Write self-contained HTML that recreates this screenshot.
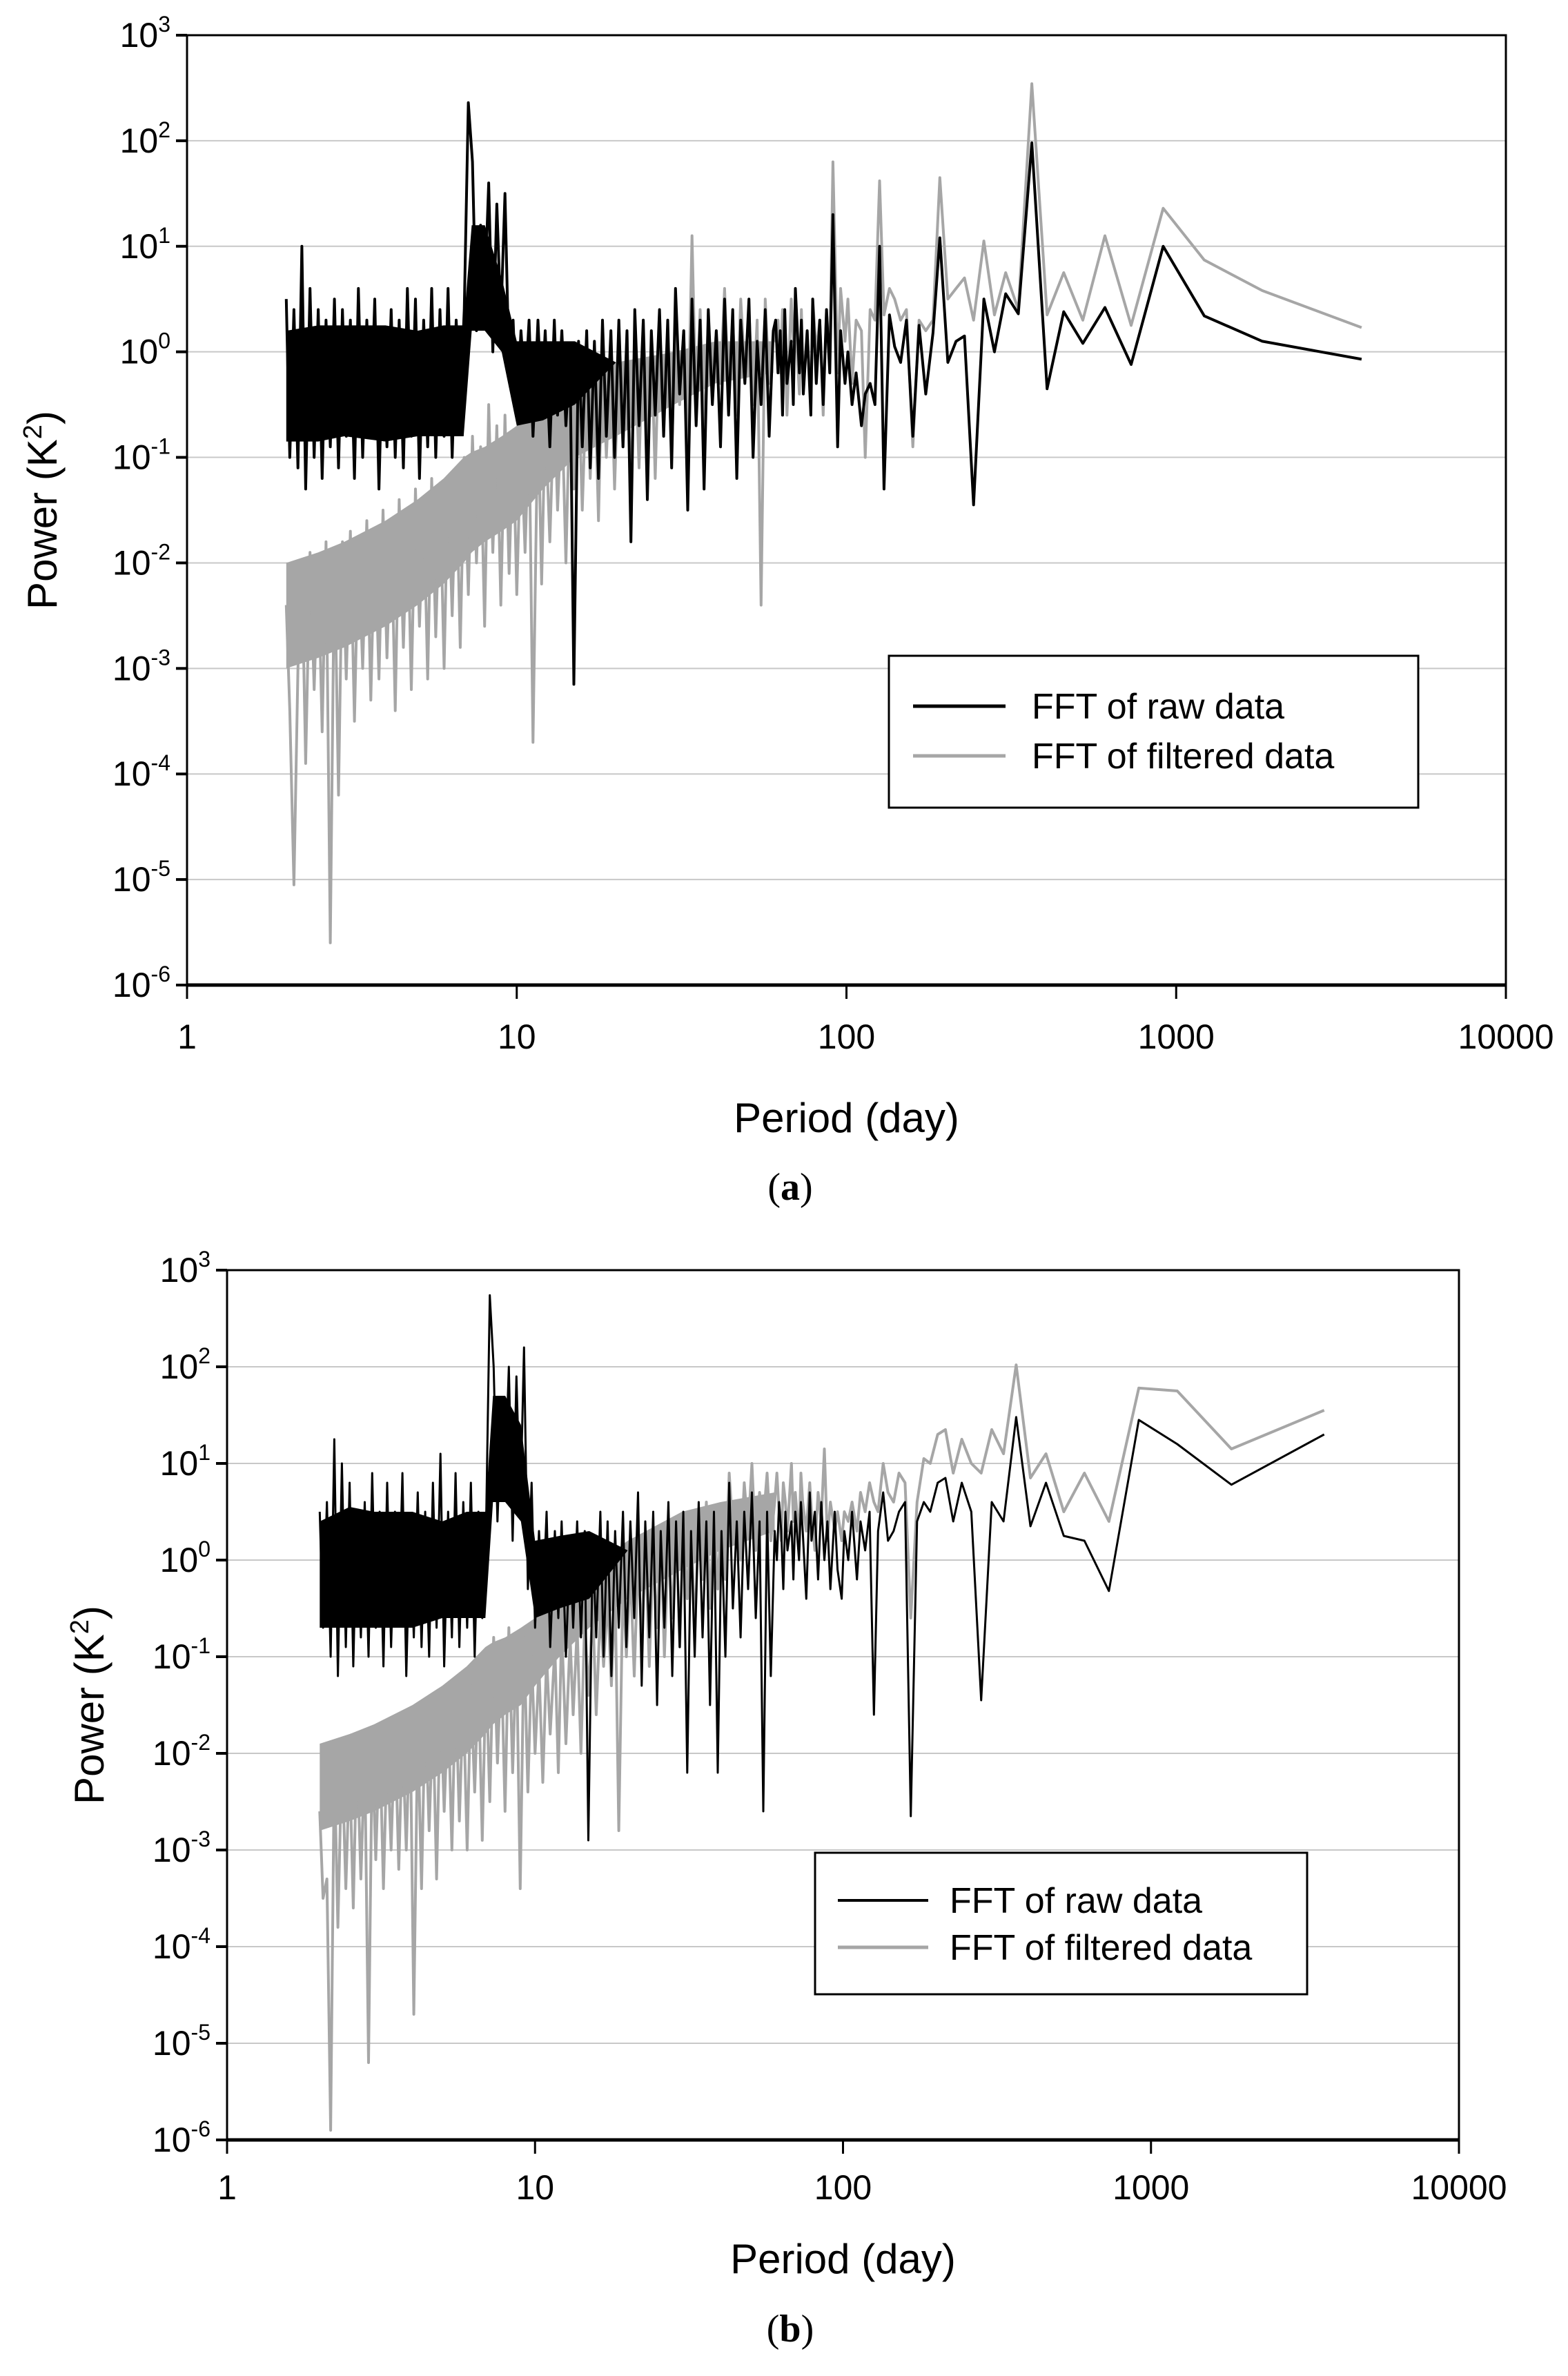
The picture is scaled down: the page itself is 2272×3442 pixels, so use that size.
<!DOCTYPE html>
<html><head><meta charset="utf-8"><style>
html,body{margin:0;padding:0;background:#fff;}
svg{display:block;font-family:"Liberation Sans",Arial,sans-serif;}
</style></head><body>
<svg id="fig" width="2272" height="3442" viewBox="0 0 2272 3442" xmlns="http://www.w3.org/2000/svg">
<rect x="0" y="0" width="2272" height="3442" fill="#fff"/>
<g id="panelA"></g>
<g id="panelB"></g>
</svg>
<script>
// Shared period categories (days), descending
const periods = [3650,1825,1217,913,730,608,521,456,406,365,332,304,281,261,243,228,215,203,192,183,174,166,159,152,146,140,135,130,126,122,118,114,111,107,104,101,99,96,94,91,89,87,85,83,81,79,78,76,74,73,72,70,69,68,66,65,64,63,62,61,
60,58.3,56.7,55.1,53.6,52.1,50.6,49.2,47.8,46.5,45.2,43.9,42.7,41.5,40.3,
39.2,38.1,37,36,35,34,33,32.1,31.2,30.3,29.5,28.7,27.9,27.1,26.3,25.6,24.9,24.2,23.5,22.8,22.2,21.6,21,20.4,
19.8,19.3,18.7,18.2,17.7,17.2,16.7,16.3,15.8,15.4,14.9,14.5,14.1,13.7,13.3,13.0,12.6,12.2,11.9,11.6,11.2,10.9,10.6,10.3,10.0,
9.75,9.48,9.21,8.95,8.70,8.46,8.22,7.99,7.77,7.55,7.34,7.13,6.93,6.74,6.55,6.37,6.19,6.02,
5.85,5.68,5.52,5.37,5.22,5.07,4.93,4.79,4.66,4.53,4.40,4.28,4.16,4.04,3.93,3.82,3.71,3.61,3.51,3.41,3.31,3.22,3.13,3.04,2.96,2.88,2.80,2.72,2.64,2.57,2.50,2.43,2.36,2.29,2.23,2.17,2.11,2.05,2.0];

// log10 of power (K^2)
const rawA_log10 = [-0.07,0.1,0.34,1.0,-0.12,0.42,0.08,0.38,-0.35,1.98,0.36,0.55,0.0,0.5,-1.45,0.15,0.1,-0.1,1.08,0.18,-0.4,0.25,-0.8,0.3,-0.1,0.05,0.35,-1.3,1.0,-0.5,-0.3,-0.4,-0.7,-0.2,-0.5,0.0,-0.3,0.2,-0.9,1.3,-0.2,0.4,-0.5,0.3,-0.3,0.5,-0.6,0.2,-0.4,0.3,-0.2,0.6,-0.5,0.1,-0.3,0.4,-0.6,0.2,-0.2,0.3,
0.2,-0.8,0.4,-0.5,0.1,-1.0,0.5,-0.3,0.3,-1.2,0.4,-0.6,0.5,-0.9,0.2,
-0.5,0.4,-1.3,0.3,-0.7,0.5,-1.5,0.2,-0.4,0.6,-1.1,0.3,-0.8,0.4,-0.6,0.2,-1.4,0.3,-0.7,0.4,-1.8,0.2,-0.9,0.3,
-1.0,0.2,-0.8,0.3,-1.2,0.1,-1.1,0.2,-0.9,0.1,-3.15,0.0,-0.7,0.2,-0.6,0.3,-0.9,0.2,-0.5,0.3,-0.8,0.3,-0.4,0.2,-0.6,
0.3,-0.2,1.5,0.3,1.4,0.0,1.6,0.5,1.2,0.2,1.8,2.36,0.4,-0.5,0.3,-1.0,0.6,-0.8,
0.4,-1.0,0.6,-0.9,0.3,-1.2,0.5,-0.8,0.6,-1.1,0.3,-1.0,0.4,-0.9,0.2,-1.3,0.5,-0.7,0.3,-1.0,0.6,-1.2,0.3,-0.8,0.4,-1.1,0.5,-0.9,0.3,-1.2,0.4,-1.0,0.6,-1.3,1.0,-1.1,0.4,-1.0,0.5];

const filtA_log10 = [0.23,0.58,0.87,1.36,0.25,1.1,0.3,0.75,0.35,2.54,0.4,0.75,0.35,1.05,0.3,0.7,0.6,0.5,1.65,0.3,0.2,0.3,-0.9,0.4,0.3,0.5,0.6,0.35,1.62,0.3,0.4,-1.0,0.2,0.3,-0.3,0.5,0.1,0.6,-0.2,1.8,-0.1,0.4,-0.6,0.3,0.0,0.5,-0.5,0.2,-0.3,0.4,-0.4,0.3,0.1,0.5,-0.6,0.2,0.4,-0.2,0.3,0.1,
0.2,-0.3,0.5,-2.4,0.3,-0.5,0.4,-0.2,0.5,-0.6,0.3,-0.4,0.6,-0.3,0.2,
-0.4,0.3,-0.8,0.4,-0.6,1.1,-0.9,0.2,-0.5,0.3,-1.0,0.2,-0.7,0.3,-1.2,0.1,-0.8,0.3,-1.1,0.1,-1.4,0.2,-0.9,0.0,
-1.3,0.0,-1.0,0.1,-1.6,-0.1,-1.2,-0.2,-1.5,-0.3,-1.3,-0.4,-2.0,-0.5,-1.5,-0.4,-1.8,-0.6,-2.2,-0.5,-3.7,-0.7,-1.9,-0.8,-2.3,
-0.8,-2.1,-0.6,-2.4,-0.7,-1.9,-0.5,-2.6,-0.9,-2.0,-0.8,-2.3,-1.0,-2.8,-1.1,-2.5,-1.2,-3.0,
-1.3,-2.7,-1.2,-3.1,-1.4,-2.6,-1.3,-3.2,-1.5,-2.8,-1.4,-3.4,-1.6,-2.9,-1.5,-3.1,-1.7,-3.3,-1.6,-3.0,-1.8,-3.5,-1.7,-3.1,-1.8,-4.2,-1.9,-5.6,-1.8,-3.6,-2.0,-3.2,-1.9,-3.9,-2.0,-3.0,-5.05,-3.4,-2.4];

const rawB_log10 = [1.3,0.78,1.2,1.45,-0.32,0.2,0.25,0.8,0.35,1.48,0.4,0.6,-1.45,0.5,0.8,0.4,0.85,0.8,0.5,0.6,0.4,-2.65,0.6,0.5,0.3,0.2,0.7,0.3,-1.6,0.5,0.1,0.4,-0.2,0.5,0.0,0.3,-0.4,-0.1,0.5,-0.3,0.4,0.0,0.6,-0.2,0.5,0.2,0.7,-0.4,0.3,0.6,0.0,0.5,-0.2,0.4,0.1,0.5,-0.3,0.3,0.6,0.0,
0.3,-1.2,0.5,-2.6,0.4,-0.6,0.7,-0.3,0.5,-0.8,0.4,-0.5,0.8,-1.0,0.3,
-2.2,0.5,-1.5,0.4,-0.8,0.6,-1.0,0.3,-2.2,0.5,-0.9,0.4,-1.2,0.6,-0.7,0.3,-1.5,0.5,-0.8,0.4,-1.3,0.7,-0.6,0.4,
-0.9,0.5,-0.7,0.3,-1.2,0.4,-1.0,0.5,-0.8,0.2,-2.9,0.3,-0.8,0.4,-0.7,0.2,-1.0,0.4,-0.6,0.3,-0.9,0.5,-0.5,0.3,-0.7,
0.8,-0.3,2.2,0.5,1.9,0.2,2.0,0.8,1.5,0.4,2.0,2.74,0.3,-0.6,0.5,-1.0,0.8,-0.7,
0.6,-0.9,0.9,-0.8,0.5,-1.1,1.1,-0.7,0.8,-1.0,0.5,-0.9,0.7,-0.8,0.4,-1.2,0.9,-0.6,0.5,-0.9,0.8,-1.1,0.5,-0.7,0.9,-1.0,0.6,-0.8,0.5,-1.1,0.8,-0.9,1.0,-1.2,1.25,-1.0,0.6,-0.7,0.5];

const filtB_log10 = [1.55,1.15,1.75,1.78,0.4,0.9,0.5,1.1,0.85,2.02,1.1,1.35,0.9,1.0,1.25,0.9,1.35,1.3,1.0,1.05,0.6,-0.6,0.8,0.9,0.6,0.7,1.0,0.5,0.6,0.8,0.5,0.7,0.3,0.6,0.4,0.5,0.2,0.5,0.3,0.6,0.2,1.15,0.4,0.7,0.1,0.5,0.8,0.3,0.6,0.9,0.2,0.7,0.4,1.0,0.3,0.6,0.8,0.2,0.5,0.9,
0.6,0.2,0.9,0.4,0.7,0.1,1.0,0.3,0.8,0.0,0.6,0.3,0.9,-0.2,0.5,
-0.3,0.5,-0.5,0.6,-0.2,0.4,-0.8,0.5,-0.4,0.3,-0.9,0.4,-0.6,0.2,-1.0,0.3,-0.7,0.1,-1.1,0.2,-0.8,0.0,-1.2,-0.1,
-1.0,-0.2,-2.8,-0.3,-1.3,-0.4,-1.1,-0.5,-1.6,-0.5,-1.4,-0.6,-2.0,-0.7,-1.6,-0.8,-1.9,-0.7,-2.2,-0.9,-1.8,-1.0,-2.3,-1.1,-2.0,
-1.0,-2.4,-0.8,-3.4,-0.9,-2.2,-0.7,-2.6,-1.0,-2.1,-0.8,-2.5,-1.1,-2.9,-1.2,-2.4,-1.3,-3.0,
-1.4,-2.7,-1.3,-3.0,-1.5,-2.6,-1.4,-3.3,-1.6,-2.8,-1.5,-3.4,-1.7,-4.7,-1.6,-3.0,-1.8,-3.2,-1.7,-3.0,-1.9,-3.4,-1.8,-3.1,-1.9,-5.2,-2.0,-3.3,-1.9,-3.6,-2.1,-3.4,-2.0,-3.8,-2.1,-5.9,-3.3,-3.5,-2.6];

// Dense-region envelopes (log10 power) where the spectra appear as solid bands
const bandPeriods = [2,2.5,3,4,5,6,6.9,7.3,8,9,10,12,15,20,30,40,60];
const rawA_bandLo = [-0.85,-0.85,-0.8,-0.85,-0.8,-0.8,-0.8,0.2,0.2,0.0,-0.7,-0.65,-0.5,-0.1,-0.1,-0.1,-0.1];
const rawA_bandHi = [0.2,0.25,0.25,0.25,0.2,0.25,0.25,1.2,1.2,0.7,0.1,0.1,0.1,-0.1,-0.1,-0.1,-0.1];
const filtA_bandLo = [-3.0,-2.9,-2.8,-2.6,-2.4,-2.2,-2.0,-1.9,-1.8,-1.7,-1.6,-1.3,-1.0,-0.8,-0.5,-0.3,-0.2];
const filtA_bandHi = [-2.0,-1.9,-1.8,-1.6,-1.4,-1.2,-1.0,-0.95,-0.9,-0.8,-0.7,-0.5,-0.3,-0.1,0.0,0.1,0.1];
const rawB_bandLo = [-0.7,-0.7,-0.7,-0.7,-0.6,-0.6,-0.6,0.6,0.6,0.4,-0.6,-0.5,-0.4,0.1,0.1,0.1,0.1];
const rawB_bandHi = [0.4,0.55,0.5,0.5,0.4,0.5,0.5,1.7,1.7,1.4,0.2,0.25,0.3,0.1,0.1,0.1,0.1];
const filtB_bandLo = [-2.8,-2.7,-2.6,-2.4,-2.2,-2.0,-1.8,-1.7,-1.6,-1.5,-1.3,-1.0,-0.7,-0.4,-0.1,0.1,0.3];
const filtB_bandHi = [-1.9,-1.8,-1.7,-1.5,-1.3,-1.1,-0.9,-0.85,-0.8,-0.7,-0.6,-0.4,-0.1,0.2,0.5,0.6,0.7];

const xTickLabels = ["1","10","100","1000","10000"];
const yExponents = [3,2,1,0,-1,-2,-3,-4,-5,-6];

const NS = "http://www.w3.org/2000/svg";
function mk(tag, attrs, parent){
  const e = document.createElementNS(NS, tag);
  for (const k in attrs) e.setAttribute(k, attrs[k]);
  parent.appendChild(e);
  return e;
}

function drawPanel(g, cfg, raw, filt, bands, rawW){
  const xS = p => cfg.x0 + Math.log10(p) / 4 * (cfg.x1 - cfg.x0);
  const yS = lv => cfg.y1 - (lv + 6) / 9 * (cfg.y1 - cfg.y0);
  yExponents.forEach(e => {
    if (e === 3 || e === -6) return;
    const l = mk('line', {x1:cfg.x0, x2:cfg.x1, y1:yS(e), y2:yS(e), stroke:'#c8c8c8', 'stroke-width':2}, g);
    
    
  });
  const mkPath = (vals) => periods.map((p,i)=>(i?'L':'M')+xS(p).toFixed(1)+' '+yS(vals[i]).toFixed(1)).join(' ');
  const mkBand = (lo, hi) => {
    const up = bandPeriods.map((p,i)=>xS(p).toFixed(1)+','+yS(hi[i]).toFixed(1));
    const dn = bandPeriods.map((p,i)=>xS(p).toFixed(1)+','+yS(lo[i]).toFixed(1)).reverse();
    return up.concat(dn).join(' ');
  };
  const fb = mk('polygon', {points:mkBand(bands.fLo, bands.fHi), fill:'#a6a6a6'}, g);
  
  
  const f = mk('path', {d:mkPath(filt), fill:'none', stroke:'#a6a6a6', 'stroke-width':4, 'stroke-linejoin':'round'}, g);
  
  
  const rb = mk('polygon', {points:mkBand(bands.rLo, bands.rHi), fill:'#000'}, g);
  
  
  const r = mk('path', {d:mkPath(raw), fill:'none', stroke:'#000', 'stroke-width':rawW, 'stroke-linejoin':'round'}, g);
  
  
  const fr = mk('rect', {x:cfg.x0, y:cfg.y0, width:cfg.x1-cfg.x0, height:cfg.y1-cfg.y0, fill:'none', stroke:'#000', 'stroke-width':3}, g);
  
  
  mk('line', {x1:cfg.x0, x2:cfg.x1, y1:cfg.y1, y2:cfg.y1, stroke:'#000', 'stroke-width':5}, g);
  yExponents.forEach(e => {
    const y = yS(e);
    mk('line', {x1:cfg.x0-16, x2:cfg.x0, y1:y, y2:y, stroke:'#000', 'stroke-width':4}, g);
    const t = mk('text', {x:cfg.x0-24, y:y+17, 'text-anchor':'end', 'font-size':50, fill:'#000'}, g);
    
    
    t.appendChild(document.createTextNode('10'));
    const s = mk('tspan', {dy:-22, 'font-size':32}, t);
    s.textContent = String(e);
  });
  xTickLabels.forEach((lab,i) => {
    const x = xS(Math.pow(10,i));
    mk('line', {x1:x, x2:x, y1:cfg.y1, y2:cfg.y1+20, stroke:'#000', 'stroke-width':3}, g);
    const t = mk('text', {x:x, y:cfg.y1+cfg.tickDy, 'text-anchor':'middle', 'font-size':50, fill:'#000'}, g);
    
    
    t.textContent = lab;
  });
  const xt = mk('text', {x:(cfg.x0+cfg.x1)/2, y:cfg.xTitleY, 'text-anchor':'middle', 'font-size':60, fill:'#000'}, g);
  
  
  xt.textContent = 'Period (day)';
  const yt = mk('text', {x:0, y:0, 'text-anchor':'middle', 'font-size':60, fill:'#000', transform:`translate(${cfg.yTitleX},${(cfg.y0+cfg.y1)/2}) rotate(-90)`}, g);
  
  
  yt.appendChild(document.createTextNode('Power (K'));
  const sup = mk('tspan', {dy:-22, 'font-size':38}, yt); sup.textContent='2';
  const cl = mk('tspan', {dy:22}, yt); cl.textContent=')';
  const L = cfg.leg;
  const lb = mk('rect', {x:L.x, y:L.y, width:L.w, height:L.h, fill:'#fff', stroke:'#000', 'stroke-width':3}, g);
  
  
  [[L.r1,'#000',rawW,'FFT of raw data','legend-entry-raw'],[L.r2,'#a6a6a6',4,'FFT of filtered data','legend-entry-filtered']].forEach(([yy,c,w,txt,nm])=>{
    mk('line', {x1:L.lx0, x2:L.lx1, y1:yy, y2:yy, stroke:c, 'stroke-width':w+1}, g);
    const t = mk('text', {x:L.tx, y:yy+18, 'font-size':52, fill:'#000'}, g);
    
    
    t.textContent = txt;
  });
  const pl = mk('text', {x:1145, y:cfg.capY, 'text-anchor':'middle', 'font-size':56, 'font-family':'"Liberation Serif",serif', fill:'#000'}, g);
  
  
  pl.appendChild(document.createTextNode('('));
  const bb = mk('tspan', {'font-weight':'bold'}, pl); bb.textContent = cfg.cap;
  pl.appendChild(document.createTextNode(')'));
}

drawPanel(document.getElementById('panelA'),
  {x0:271,x1:2182,y0:51,y1:1427,tickDy:92,xTitleY:1640,yTitleX:82,capY:1738,cap:'a',
   leg:{x:1288,y:950,w:767,h:220,r1:1023,r2:1095,lx0:1323,lx1:1457,tx:1495}},
  rawA_log10, filtA_log10,
  {rLo:rawA_bandLo, rHi:rawA_bandHi, fLo:filtA_bandLo, fHi:filtA_bandHi}, 4);
drawPanel(document.getElementById('panelB'),
  {x0:329,x1:2114,y0:1840,y1:3100,tickDy:86,xTitleY:3293,yTitleX:150,capY:3392,cap:'b',
   leg:{x:1181,y:2684,w:713,h:205,r1:2753,r2:2821,lx0:1214,lx1:1345,tx:1376}},
  rawB_log10, filtB_log10,
  {rLo:rawB_bandLo, rHi:rawB_bandHi, fLo:filtB_bandLo, fHi:filtB_bandHi}, 3);
</script>
</body></html>
